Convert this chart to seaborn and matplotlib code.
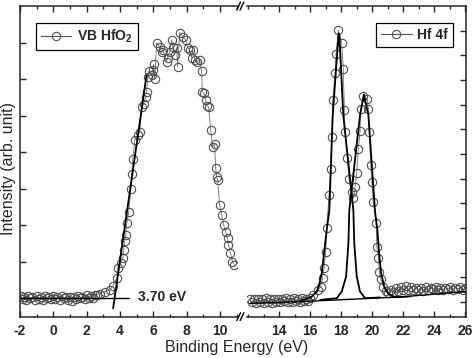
import matplotlib
matplotlib.use("Agg")
import matplotlib.pyplot as plt
from matplotlib.lines import Line2D
from matplotlib.ticker import MultipleLocator
import seaborn as sns

# ---- valence band (left panel) ----
vb_energy = [-1.95, -1.85, -1.75, -1.62, -1.50, -1.38, -1.25, -1.12, -1.00, -0.88,
             -0.75, -0.62, -0.50, -0.38, -0.25, -0.12, 0.00, 0.12, 0.25, 0.38,
             0.50, 0.62, 0.75, 0.88, 1.00, 1.12, 1.25, 1.38, 1.50, 1.62,
             1.75, 1.88, 2.00, 2.12, 2.25, 2.38, 2.50, 2.61, 2.80, 3.09,
             3.39, 3.57, 3.81, 3.87, 4.05, 4.17, 4.23, 4.29, 4.35, 4.41,
             4.53, 4.65, 4.71, 4.77, 4.89, 5.07, 5.19, 5.31, 5.43, 5.54,
             5.60, 5.66, 5.72, 5.90, 5.96, 6.02, 6.08, 6.20, 6.38, 6.50,
             6.56, 6.80, 6.86, 6.98, 7.10, 7.16, 7.28, 7.40, 7.46, 7.58,
             7.76, 7.94, 8.06, 8.18, 8.30, 8.36, 8.48, 8.60, 8.78, 8.90,
             8.94, 9.02, 9.14, 9.20, 9.32, 9.44, 9.56, 9.68, 9.74, 9.80,
             9.86, 9.98, 10.10, 10.22, 10.34, 10.46, 10.51, 10.63, 10.75, 10.87]
vb_intensity = [0.07, -0.02, 0.05, -0.03, 0.06, 0.00, 0.04, -0.03, 0.06, -0.01,
                0.05, -0.03, 0.07, 0.00, 0.04, -0.02, 0.06, -0.01, 0.05, -0.03,
                0.06, 0.01, 0.04, -0.04, 0.05, -0.08, 0.04, -0.02, 0.07, 0.00,
                0.05, -0.02, 0.08, 0.01, 0.06, 0.02, 0.09, 0.10, 0.12, 0.18,
                0.23, 0.34, 0.56, 0.84, 0.97, 1.11, 1.33, 1.58, 1.74, 2.07,
                2.37, 3.00, 3.41, 3.82, 4.34, 4.48, 4.56, 5.25, 5.33, 5.52,
                5.66, 6.07, 6.21, 6.12, 6.26, 6.40, 5.99, 7.00, 6.89, 6.73,
                6.81, 6.48, 6.59, 6.73, 7.08, 6.89, 6.67, 6.86, 6.34, 7.27,
                7.16, 7.08, 6.86, 6.81, 6.59, 6.81, 6.53, 6.48, 6.53, 6.21,
                5.66, 5.63, 5.44, 5.27, 5.25, 4.62, 4.15, 4.23, 3.58, 3.33,
                3.25, 2.56, 2.29, 2.01, 1.82, 1.66, 1.47, 1.25, 1.00, 0.92]
edge_fit_x = [3.59, 5.59]
edge_fit_y = [-0.27, 6.10]
base_fit_x = [-2.0, 4.55]
base_fit_y = [0.0, 0.0]
vbm_label = "3.70 eV"

# ---- Hf 4f core level (right panel) ----
hf_energy = [12.10, 12.23, 12.36, 12.49, 12.62, 12.75, 12.88, 13.01, 13.14, 13.27,
             13.40, 13.53, 13.66, 13.79, 13.92, 14.05, 14.18, 14.31, 14.44, 14.57,
             14.70, 14.83, 14.96, 15.09, 15.22, 15.35, 15.48, 15.61, 15.74, 15.87,
             16.00, 16.20, 16.52, 16.67, 16.80, 16.89, 17.00, 17.06, 17.21, 17.32,
             17.38, 17.45, 17.60, 17.66, 17.81, 18.03, 18.13, 18.20, 18.24, 18.39,
             18.50, 18.68, 18.78, 18.89, 19.00, 19.10, 19.21, 19.26, 19.43, 19.68,
             19.75, 19.81, 19.90, 19.97, 20.07, 20.25, 20.29, 20.40, 20.46, 20.55,
             20.72, 20.88, 21.04, 21.20, 21.36, 21.52, 21.68, 21.84, 22.00, 22.16,
             22.32, 22.48, 22.64, 22.80, 22.96, 23.12, 23.28, 23.44, 23.60, 23.76,
             23.92, 24.08, 24.24, 24.40, 24.56, 24.72, 24.88, 25.04, 25.20, 25.36,
             25.52, 25.68, 25.84, 26.00]
hf_intensity = [0.12, -0.02, 0.10, -0.04, 0.13, 0.00, 0.11, -0.03, 0.14, 0.01,
                0.10, -0.04, 0.12, 0.00, 0.13, -0.02, 0.11, 0.02, 0.14, -0.01,
                0.12, 0.00, 0.15, 0.02, 0.11, 0.00, 0.14, 0.03, 0.12, 0.05,
                0.16, 0.28, 0.49, 0.62, 0.97, 1.39, 2.04, 2.98, 4.33, 5.37,
                6.69, 8.18, 9.30, 10.04, 11.01, 10.50, 9.43, 7.80, 6.89, 5.84,
                4.98, 4.47, 4.20, 4.67, 5.23, 6.19, 6.94, 7.84, 8.34, 8.21,
                7.84, 6.89, 5.57, 4.87, 4.04, 3.21, 2.24, 1.79, 1.20, 0.92,
                0.62, 0.45, 0.36, 0.50, 0.40, 0.55, 0.45, 0.60, 0.48, 0.63,
                0.50, 0.61, 0.47, 0.58, 0.50, 0.56, 0.45, 0.59, 0.49, 0.57,
                0.51, 0.62, 0.50, 0.57, 0.48, 0.58, 0.52, 0.60, 0.50, 0.57,
                0.52, 0.59, 0.50, 0.55]
peak1_x = [15.30, 16.09, 16.42, 16.58, 16.74, 16.89, 17.06, 17.23, 17.45, 17.82,
           17.84, 17.88, 18.13, 18.78, 18.84, 19.00, 19.21, 19.54, 20.50]
peak1_y = [0.02, 0.21, 0.42, 0.69, 1.17, 1.98, 2.91, 3.72, 7.57, 10.81,
           10.89, 10.81, 7.57, 3.72, 2.38, 1.02, 0.42, 0.15, 0.18]
peak2_x = [16.63, 17.71, 18.03, 18.31, 18.46, 18.52, 19.21, 19.46, 19.75, 20.18,
           20.33, 20.44, 20.57, 20.77, 21.04, 21.47, 22.44]
peak2_y = [0.08, 0.15, 0.42, 1.02, 2.38, 3.72, 7.57, 8.42, 7.57, 3.66,
           2.91, 1.98, 1.17, 0.62, 0.32, 0.19, 0.22]
bg_x = [12.11, 15.34, 21.80, 26.05]
bg_y = [-0.06, 0.01, 0.20, 0.42]

sns.set_style("ticks")
plt.rcParams["font.family"] = ["Liberation Sans", "DejaVu Sans"]
plt.rcParams["mathtext.fontset"] = "custom"
plt.rcParams["mathtext.rm"] = "Liberation Sans"
plt.rcParams["mathtext.bf"] = "Liberation Sans:bold"

fig = plt.figure(figsize=(4.74, 3.58), dpi=100)
ax1 = fig.add_axes([0.0422, 0.1154, 0.4584, 0.8678])
ax2 = fig.add_axes([0.5205, 0.1154, 0.4627, 0.8678])

data_kw = dict(marker="o", markersize=6.0, markerfacecolor="none",
               markeredgecolor="#505050", markeredgewidth=0.8,
               color="#707070", linewidth=0.6, estimator=None, sort=False)
fit_kw = dict(color="black", linewidth=1.3, estimator=None, sort=False)

# left panel
sns.lineplot(x=vb_energy, y=vb_intensity, ax=ax1, **data_kw)
sns.lineplot(x=edge_fit_x, y=edge_fit_y, ax=ax1, **fit_kw)
sns.lineplot(x=base_fit_x, y=base_fit_y, ax=ax1, color="black", linewidth=1.0,
             estimator=None, sort=False)
ax1.text(5.08, 0.03, vbm_label, ha="left", va="center", fontsize=10,
         fontweight="bold")

# right panel
sns.lineplot(x=hf_energy, y=hf_intensity, ax=ax2, **data_kw)
sns.lineplot(x=bg_x, y=bg_y, ax=ax2, color="black", linewidth=1.0,
             estimator=None, sort=False)
sns.lineplot(x=peak1_x, y=peak1_y, ax=ax2, **fit_kw)
sns.lineplot(x=peak2_x, y=peak2_y, ax=ax2, **fit_kw)

ax1.set_xlim(-2, 11.04)
ax1.set_ylim(-0.5, 8.0)
ax2.set_xlim(11.9, 26.05)
ax2.set_ylim(-0.6, 12.0)

for ax in (ax1, ax2):
    ax.set_xlabel("")
    ax.set_ylabel("")
    ax.xaxis.set_major_locator(MultipleLocator(2))
    ax.xaxis.set_minor_locator(MultipleLocator(1))
    ax.yaxis.set_major_locator(MultipleLocator(1))
    ax.tick_params(axis="both", which="major", direction="in", length=4,
                   width=1.0, labelsize=10, pad=5)
    ax.tick_params(axis="both", which="minor", direction="in", length=2.3,
                   width=1.0)
    ax.tick_params(top=True, which="both")
    for sp in ax.spines.values():
        sp.set_linewidth(1.1)

ax1.spines["right"].set_visible(False)
ax1.tick_params(axis="y", left=True, right=False, labelleft=False)
ax1.set_xticks([-2, 0, 2, 4, 6, 8, 10])
ax1.set_xticklabels(["-2", "0", "2", "4", "6", "8", "10"], fontweight="bold")
ax1.set_yticks(range(0, 8))

ax2.spines["left"].set_visible(False)
ax2.tick_params(axis="y", left=False, right=True, labelleft=False,
                labelright=False)
ax2.set_xticks([14, 16, 18, 20, 22, 24, 26])
ax2.set_xticklabels(["14", "16", "18", "20", "22", "24", "26"], fontweight="bold")
ax2.set_yticks(range(0, 12))

def legend_handle():
    return Line2D([], [], marker="o", markersize=6.0, markerfacecolor="none",
                  markeredgecolor="#505050", markeredgewidth=0.8,
                  color="#505050", linewidth=0.8)

leg_kw = dict(frameon=True, fancybox=False, edgecolor="black", framealpha=1,
              handlelength=2.2, handletextpad=0.4, borderpad=0.35,
              borderaxespad=0, prop={"weight": "bold", "size": 10})
l1 = ax1.legend([legend_handle()], [r"VB HfO$_\mathbf{2}$"], loc="upper left",
                bbox_to_anchor=(0.073, 0.945), **leg_kw)
l1.get_frame().set_linewidth(0.9)
l2 = ax2.legend([legend_handle()], ["Hf 4f"], loc="upper right",
                bbox_to_anchor=(0.94, 0.945), **leg_kw)
l2.get_frame().set_linewidth(0.9)

# axis break marks
for yb in (0.1154, 0.9832):
    for xb in (0.5035, 0.5105):
        fig.add_artist(Line2D([xb - 0.004, xb + 0.004], [yb - 0.011, yb + 0.011],
                              transform=fig.transFigure, color="black",
                              linewidth=1.0))

fig.text(0.5, 0.028, "Binding Energy (eV)", ha="center", va="center",
         fontsize=11.5)
fig.text(0.018, 0.53, "Intensity (arb. unit)", ha="center", va="center",
         rotation=90, fontsize=11.5)

fig.savefig("out.png", dpi=100)
